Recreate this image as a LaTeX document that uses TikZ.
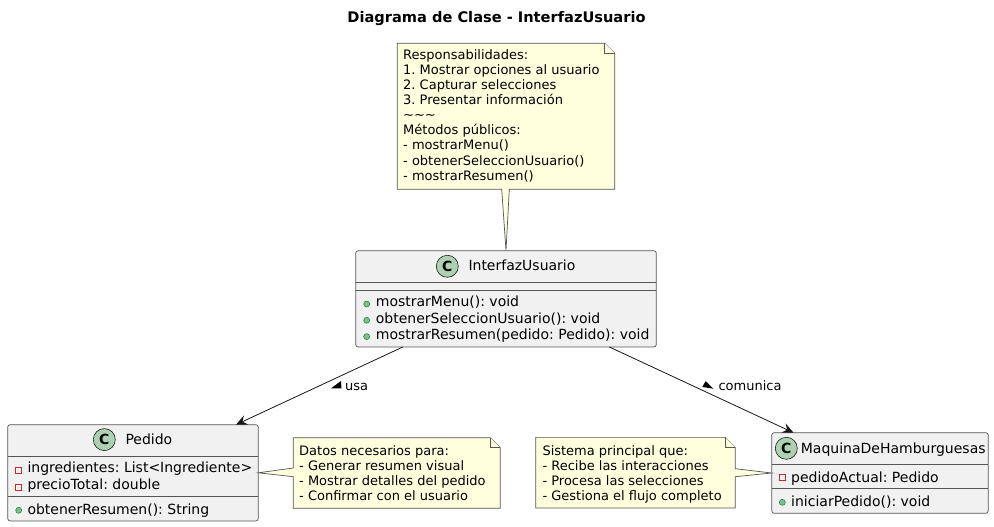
\documentclass[tikz,border=0pt]{standalone}
\usepackage{fontspec}
\setmainfont{DejaVu Sans}
\usetikzlibrary{arrows.meta,calc}
\AtBeginDocument{\frenchspacing}
\definecolor{umlline}{HTML}{555555}
\definecolor{edgeline}{HTML}{181818}
\definecolor{classfill}{HTML}{F1F1F1}
\definecolor{notefill}{HTML}{FEFFDD}
\definecolor{spotfill}{HTML}{ADD1B2}
\definecolor{spotline}{HTML}{181818}
\definecolor{pubfill}{HTML}{84BE84}
\definecolor{publine}{HTML}{038048}
\definecolor{privline}{HTML}{C82930}
\tikzset{
  x=1pt,y=-1pt,
  classbox/.style={draw=umlline,fill=classfill,line width=0.7pt,rounded corners=2.5pt,inner sep=0pt,outer sep=0pt},
  sepline/.style={draw=umlline,line width=0.7pt},
  notebg/.style={draw=none,inner sep=0pt,outer sep=0pt},
  noteline/.style={draw=umlline,fill=notefill,line width=0.7pt,line join=miter},
  spot/.style={circle,draw=spotline,fill=spotfill,line width=0.6pt,minimum size=22pt,inner sep=0pt,font=\fontsize{14}{14}\selectfont\bfseries},
  classname/.style={anchor=base west,inner sep=0pt,font=\fontsize{14}{16}\selectfont},
  member/.style={anchor=base west,inner sep=0pt,font=\fontsize{14}{16}\selectfont},
  pubicon/.style={circle,draw=publine,fill=pubfill,line width=0.5pt,minimum size=6pt,inner sep=0pt},
  privicon/.style={rectangle,draw=privline,line width=0.6pt,minimum size=6pt,inner sep=0pt},
  notetext/.style={anchor=base west,inner sep=0pt,align=left,font=\fontsize{13}{15.15}\selectfont},
  edgelabel/.style={anchor=base west,inner sep=0pt,font=\fontsize{13}{15}\selectfont},
  assoc/.style={draw=edgeline,line width=0.8pt,-{Stealth[length=11pt,width=10pt,inset=4pt]}},
}
\begin{document}
\begin{tikzpicture}
\useasboundingbox (0,0) rectangle (994,527);
\fill[white] (0,0) rectangle (994,527);
\node[anchor=base,inner sep=0pt,font=\fontsize{14.6}{16}\selectfont\bfseries] (title) at (496.5,23) {Diagrama de Clase - InterfazUsuario};

% classes
\node[classbox,minimum width=300.6pt,minimum height=96.3pt] (iface) at (506,298.8) {};
\node[classbox,minimum width=250.6pt,minimum height=96.3pt] (pedido) at (133,472.8) {};
\node[classbox,minimum width=216.6pt,minimum height=80.6pt] (maquina) at (880,473) {};

\draw[sepline] (355.7,282.3) -- (656.3,282.3) (355.7,290.3) -- (656.3,290.3);
\draw[sepline] (7.7,456.3) -- (258.3,456.3) (7.7,496.3) -- (258.3,496.3);
\draw[sepline] (771.7,464.3) -- (988.3,464.3) (771.7,488.3) -- (988.3,488.3);

\node[spot] (spotA) at (447.3,266.3) {C};
\node[classname] (nameA) at (468.3,270.7) {InterfazUsuario};
\node[pubicon] (a1i) at (366.7,304) {};
\node[member] (a1) at (375.7,306.7) {mostrarMenu(): void};
\node[pubicon] (a2i) at (366.7,320.3) {};
\node[member] (a2) at (375.7,323) {obtenerSeleccionUsuario(): void};
\node[pubicon] (a3i) at (366.7,336.6) {};
\node[member] (a3) at (375.7,339.3) {mostrarResumen(pedido: Pedido): void};

\node[spot] (spotB) at (104.3,439.6) {C};
\node[classname] (nameB) at (125.3,444.7) {Pedido};
\node[privicon] (b1i) at (18.7,470.3) {};
\node[member] (b1) at (27.3,472.7) {ingredientes: List<Ingrediente>};
\node[privicon] (b2i) at (18.7,487) {};
\node[member] (b2) at (27.3,489.4) {precioTotal: double};
\node[pubicon] (b3i) at (18.7,510.3) {};
\node[member] (b3) at (27.3,514) {obtenerResumen(): String};

\node[spot] (spotC) at (786.3,448.3) {C};
\node[classname] (nameC) at (800.7,453.3) {MaquinaDeHamburguesas};
\node[privicon] (c1i) at (782.3,477.7) {};
\node[member] (c1) at (791,482.3) {pedidoActual: Pedido};
\node[pubicon] (c2i) at (782.3,502.3) {};
\node[member] (c2) at (791,506) {iniciarPedido(): void};

% notes
\node[notebg,minimum width=217.4pt,minimum height=146pt] (noteA) at (506,116.3) {};
\draw[noteline] (noteA.north west) -- ($(noteA.north east)+(-10,0)$) -- ($(noteA.north east)+(0,10)$) -- (noteA.south east) -- (509.3,189.3) -- (iface.north) -- (501.7,189.3) -- (noteA.south west) -- cycle;
\draw[noteline] ($(noteA.north east)+(-10,0)$) -- ($(noteA.north east)+(-10,10)$) -- ($(noteA.north east)+(0,10)$);
\node[notetext] (noteAt) at (403,180.2) {Responsabilidades:\\1. Mostrar opciones al usuario\\2. Capturar selecciones\\3. Presentar información\\\textasciitilde\textasciitilde\textasciitilde\\Métodos públicos:\\- mostrarMenu()\\- obtenerSeleccionUsuario()\\- mostrarResumen()};

\node[notebg,minimum width=207pt,minimum height=70.6pt] (noteB) at (396.8,473) {};
\draw[noteline] (noteB.north west) -- ($(noteB.north east)+(-10,0)$) -- ($(noteB.north east)+(0,10)$) -- (noteB.south east) -- (noteB.south west) -- (293.3,476.7) -- (pedido.east) -- (293.3,468) -- cycle;
\draw[noteline] ($(noteB.north east)+(-10,0)$) -- ($(noteB.north east)+(-10,10)$) -- ($(noteB.north east)+(0,10)$);
\node[notetext] (noteBt) at (299,500.45) {Datos necesarios para:\\- Generar resumen visual\\- Mostrar detalles del pedido\\- Confirmar con el usuario};

\node[notebg,minimum width=199.6pt,minimum height=70.7pt] (noteC) at (635.5,472.7) {};
\draw[noteline] (noteC.north west) -- ($(noteC.north east)+(-10,0)$) -- ($(noteC.north east)+(0,10)$) -- (735.3,468.7) -- (maquina.west) -- (735.3,476.7) -- (noteC.south east) -- (noteC.south west) -- cycle;
\draw[noteline] ($(noteC.north east)+(-10,0)$) -- ($(noteC.north east)+(-10,10)$) -- ($(noteC.north east)+(0,10)$);
\node[notetext] (noteCt) at (542.3,500.45) {Sistema principal que:\\- Recibe las interacciones\\- Procesa las selecciones\\- Gestiona el flujo completo};

% connectors
\draw[assoc] (iface) -- (pedido);
\draw[assoc] (iface) -- (maquina);
\node[edgelabel] (lblA) at (345,390) {usa};
\node[edgelabel] (lblB) at (718.3,390) {comunica};
\fill[black] (341,381) -- (341.5,388.5) -- (331,388.3) -- cycle;
\fill[black] (705.7,381) -- (713.3,388.7) -- (702.3,387) -- cycle;
\end{tikzpicture}
\end{document}
